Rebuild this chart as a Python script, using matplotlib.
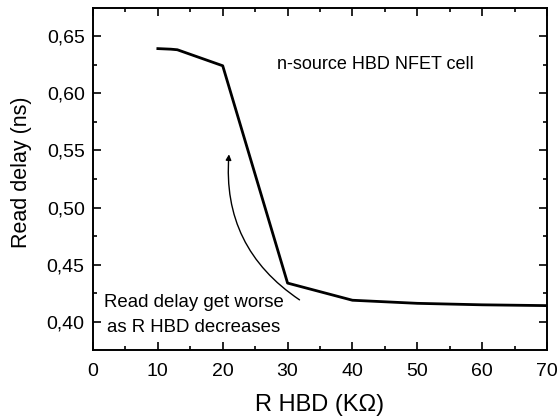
import matplotlib
matplotlib.use("Agg")
import matplotlib.pyplot as plt
from matplotlib.ticker import MultipleLocator, FuncFormatter

plt.rcParams['font.family'] = ['Liberation Sans', 'DejaVu Sans']

# R HBD (kOhm) vs read delay (ns)
r_hbd = [10, 12, 13, 14, 20, 30, 40, 50, 60, 70]
delay = [0.639, 0.6385, 0.638, 0.636, 0.624, 0.434, 0.419, 0.4163, 0.415, 0.4143]

fig = plt.figure(figsize=(5.59, 4.19), dpi=100)
ax = fig.add_axes([93 / 559, 1 - 350 / 419, 454 / 559, 342 / 419])

ax.plot(r_hbd, delay, color='black', lw=2)

ax.set_xlim(0, 70)
ax.set_ylim(0.3755, 0.6745)
ax.xaxis.set_major_locator(MultipleLocator(10))
ax.xaxis.set_minor_locator(MultipleLocator(5))
ax.yaxis.set_major_locator(MultipleLocator(0.05))
ax.yaxis.set_minor_locator(MultipleLocator(0.025))
ax.yaxis.set_major_formatter(FuncFormatter(lambda v, p: f"{v:.2f}".replace('.', ',')))
ax.tick_params(which='both', direction='in', top=True, right=True, width=1.2)
ax.tick_params(which='major', length=6, labelsize=14, pad=6)
ax.tick_params(axis='x', which='major', pad=9)
ax.tick_params(which='minor', length=3)
for s in ax.spines.values():
    s.set_linewidth(1.4)

ax.set_xlabel('R HBD (KΩ)', fontsize=17, labelpad=10.5)
ax.set_ylabel('Read delay (ns)', fontsize=15.5, labelpad=10)
ax.yaxis.set_label_coords(-0.135, 0.52)

ax.text(43.6, 0.6247, 'n-source HBD NFET cell', fontsize=13, ha='center', va='center')
ax.text(15.5, 0.406, 'Read delay get worse\nas R HBD decreases', fontsize=13.4,
        ha='center', va='center', linespacing=1.65)
ax.annotate('', xy=(21, 0.549), xytext=(32.2, 0.418),
            arrowprops=dict(arrowstyle='-|>', color='black', lw=1,
                            mutation_scale=8,
                            connectionstyle='arc3,rad=-0.3'))

fig.savefig('out.png', dpi=100)
